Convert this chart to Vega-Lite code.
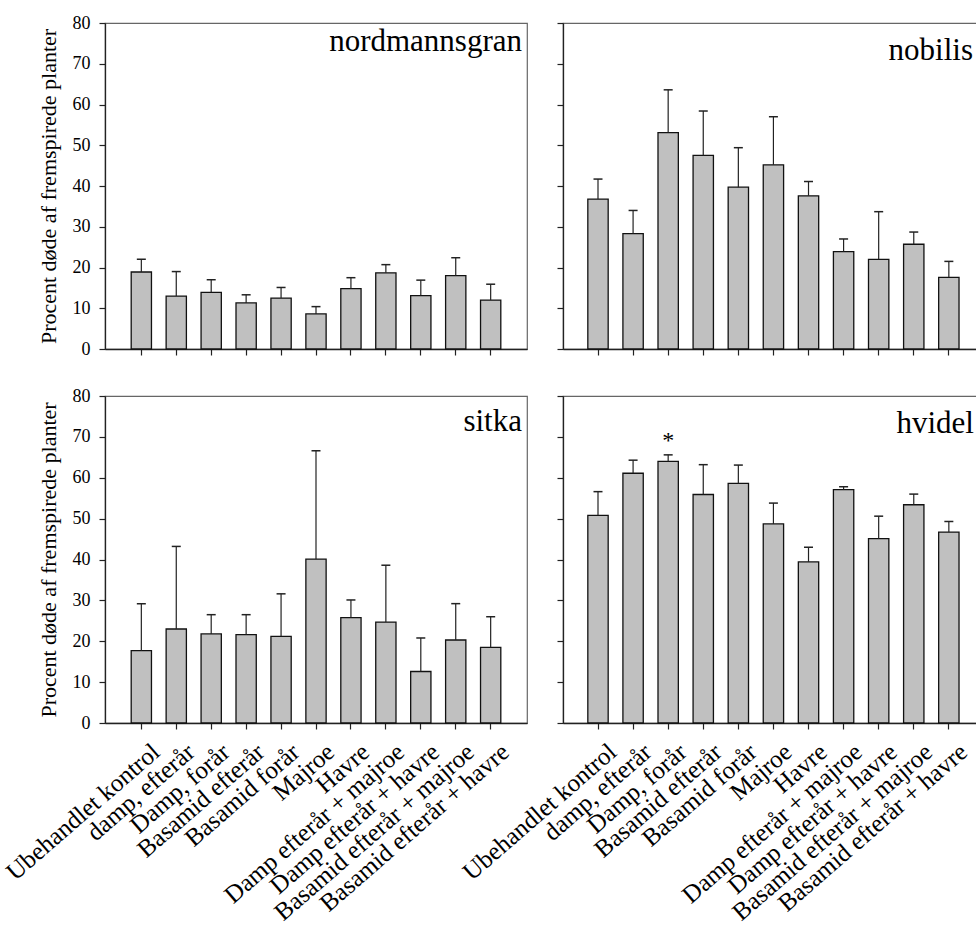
{
  "$schema": "https://vega.github.io/schema/vega-lite/v6.json",
  "padding": {"left": 0, "top": 13, "right": 0, "bottom": 0},
  "background": "white",
  "datasets": {
    "d": [
      {"art": "nordmannsgran", "beh": "Ubehandlet kontrol", "v": 18.9, "hi": 22.0},
      {"art": "nordmannsgran", "beh": "damp, efterår", "v": 13.0, "hi": 19.0},
      {"art": "nordmannsgran", "beh": "Damp, forår", "v": 13.9, "hi": 17.0},
      {"art": "nordmannsgran", "beh": "Basamid efterår", "v": 11.3, "hi": 13.3},
      {"art": "nordmannsgran", "beh": "Basamid forår", "v": 12.5, "hi": 15.1},
      {"art": "nordmannsgran", "beh": "Majroe", "v": 8.6, "hi": 10.4},
      {"art": "nordmannsgran", "beh": "Havre", "v": 14.8, "hi": 17.5},
      {"art": "nordmannsgran", "beh": "Damp efterår + majroe", "v": 18.7, "hi": 20.7},
      {"art": "nordmannsgran", "beh": "Damp efterår + havre", "v": 13.1, "hi": 16.9},
      {"art": "nordmannsgran", "beh": "Basamid efterår + majroe", "v": 18.0, "hi": 22.4},
      {"art": "nordmannsgran", "beh": "Basamid efterår + havre", "v": 12.0, "hi": 15.9},
      {"art": "nobilis", "beh": "Ubehandlet kontrol", "v": 36.8, "hi": 41.7},
      {"art": "nobilis", "beh": "damp, efterår", "v": 28.3, "hi": 34.0},
      {"art": "nobilis", "beh": "Damp, forår", "v": 53.1, "hi": 63.6},
      {"art": "nobilis", "beh": "Basamid efterår", "v": 47.5, "hi": 58.4},
      {"art": "nobilis", "beh": "Basamid forår", "v": 39.7, "hi": 49.4},
      {"art": "nobilis", "beh": "Majroe", "v": 45.2, "hi": 57.0},
      {"art": "nobilis", "beh": "Havre", "v": 37.6, "hi": 41.1},
      {"art": "nobilis", "beh": "Damp efterår + majroe", "v": 23.9, "hi": 27.0},
      {"art": "nobilis", "beh": "Damp efterår + havre", "v": 22.0, "hi": 33.7},
      {"art": "nobilis", "beh": "Basamid efterår + majroe", "v": 25.7, "hi": 28.7},
      {"art": "nobilis", "beh": "Basamid efterår + havre", "v": 17.6, "hi": 21.5},
      {"art": "sitka", "beh": "Ubehandlet kontrol", "v": 17.7, "hi": 29.2},
      {"art": "sitka", "beh": "damp, efterår", "v": 23.0, "hi": 43.2},
      {"art": "sitka", "beh": "Damp, forår", "v": 21.8, "hi": 26.5},
      {"art": "sitka", "beh": "Basamid efterår", "v": 21.6, "hi": 26.5},
      {"art": "sitka", "beh": "Basamid forår", "v": 21.2, "hi": 31.6},
      {"art": "sitka", "beh": "Majroe", "v": 40.1, "hi": 66.6},
      {"art": "sitka", "beh": "Havre", "v": 25.8, "hi": 30.1},
      {"art": "sitka", "beh": "Damp efterår + majroe", "v": 24.7, "hi": 38.6},
      {"art": "sitka", "beh": "Damp efterår + havre", "v": 12.6, "hi": 20.8},
      {"art": "sitka", "beh": "Basamid efterår + majroe", "v": 20.3, "hi": 29.2},
      {"art": "sitka", "beh": "Basamid efterår + havre", "v": 18.5, "hi": 26.0},
      {"art": "hvidel", "beh": "Ubehandlet kontrol", "v": 50.8, "hi": 56.6},
      {"art": "hvidel", "beh": "damp, efterår", "v": 61.1, "hi": 64.3},
      {"art": "hvidel", "beh": "Damp, forår", "v": 64.0, "hi": 65.6, "sig": "*"},
      {"art": "hvidel", "beh": "Basamid efterår", "v": 55.9, "hi": 63.2},
      {"art": "hvidel", "beh": "Basamid forår", "v": 58.6, "hi": 63.1},
      {"art": "hvidel", "beh": "Majroe", "v": 48.7, "hi": 53.8},
      {"art": "hvidel", "beh": "Havre", "v": 39.4, "hi": 43.0},
      {"art": "hvidel", "beh": "Damp efterår + majroe", "v": 57.1, "hi": 57.8},
      {"art": "hvidel", "beh": "Damp efterår + havre", "v": 45.1, "hi": 50.6},
      {"art": "hvidel", "beh": "Basamid efterår + majroe", "v": 53.4, "hi": 56.0},
      {"art": "hvidel", "beh": "Basamid efterår + havre", "v": 46.7, "hi": 49.3}
    ]
  },
  "columns": 2,
  "align": "each",
  "bounds": "flush",
  "spacing": {"row": 47, "column": 36},
  "concat": [
    {
      "width": 422, "height": 326,
      "title": {"text": "nordmannsgran", "offset": -44, "dx": -5},
      "data": {"name": "d"},
      "transform": [{"filter": "datum.art == 'nordmannsgran'"}],
      "encoding": {
        "x": {"field": "beh", "type": "nominal", "sort": null,
              "scale": {"paddingInner": 0.42, "paddingOuter": 0.75},
              "axis": {"labels": false, "title": null}}
      },
      "layer": [
        {"mark": {"type": "bar", "fill": "#c0c0c0", "stroke": "#111", "strokeWidth": 1.3},
         "encoding": {"y": {"field": "v", "type": "quantitative", "scale": {"domain": [0, 80]},
                            "title": "Procent døde af fremspirede planter"}}},
        {"mark": {"type": "rule", "color": "#222", "strokeWidth": 1.2},
         "encoding": {"y": {"field": "v", "type": "quantitative", "title": "Procent døde af fremspirede planter"}, "y2": {"field": "hi"}}},
        {"mark": {"type": "tick", "color": "#222", "size": 9, "thickness": 1.5, "opacity": 1, "orient": "horizontal"},
         "encoding": {"y": {"field": "hi", "type": "quantitative", "title": "Procent døde af fremspirede planter"}}}
      ]
    },
    {
      "width": 414, "height": 326,
      "title": {"text": "nobilis", "offset": -45, "dx": -4},
      "data": {"name": "d"},
      "transform": [{"filter": "datum.art == 'nobilis'"}],
      "encoding": {
        "x": {"field": "beh", "type": "nominal", "sort": null,
              "scale": {"paddingInner": 0.42, "paddingOuter": 0.61, "align": 0.58},
              "axis": {"labels": false, "title": null}}
      },
      "layer": [
        {"mark": {"type": "bar", "fill": "#c0c0c0", "stroke": "#111", "strokeWidth": 1.3},
         "encoding": {"y": {"field": "v", "type": "quantitative", "scale": {"domain": [0, 80]},
                            "title": null, "axis": {"labels": false}}}},
        {"mark": {"type": "rule", "color": "#222", "strokeWidth": 1.2},
         "encoding": {"y": {"field": "v", "type": "quantitative", "title": null, "axis": {"labels": false}}, "y2": {"field": "hi"}}},
        {"mark": {"type": "tick", "color": "#222", "size": 9, "thickness": 1.5, "opacity": 1, "orient": "horizontal"},
         "encoding": {"y": {"field": "hi", "type": "quantitative", "title": null, "axis": {"labels": false}}}}
      ]
    },
    {
      "width": 422, "height": 327,
      "title": {"text": "sitka", "offset": -51, "dx": -5},
      "data": {"name": "d"},
      "transform": [{"filter": "datum.art == 'sitka'"}],
      "encoding": {
        "x": {"field": "beh", "type": "nominal", "sort": null,
              "scale": {"paddingInner": 0.42, "paddingOuter": 0.75},
              "axis": {"title": null}}
      },
      "layer": [
        {"mark": {"type": "bar", "fill": "#c0c0c0", "stroke": "#111", "strokeWidth": 1.3},
         "encoding": {"y": {"field": "v", "type": "quantitative", "scale": {"domain": [0, 80]},
                            "title": "Procent døde af fremspirede planter"}}},
        {"mark": {"type": "rule", "color": "#222", "strokeWidth": 1.2},
         "encoding": {"y": {"field": "v", "type": "quantitative", "title": "Procent døde af fremspirede planter"}, "y2": {"field": "hi"}}},
        {"mark": {"type": "tick", "color": "#222", "size": 9, "thickness": 1.5, "opacity": 1, "orient": "horizontal"},
         "encoding": {"y": {"field": "hi", "type": "quantitative", "title": "Procent døde af fremspirede planter"}}}
      ]
    },
    {
      "width": 414, "height": 327,
      "title": {"text": "hvidel", "offset": -45, "dx": -3},
      "data": {"name": "d"},
      "transform": [{"filter": "datum.art == 'hvidel'"}],
      "encoding": {
        "x": {"field": "beh", "type": "nominal", "sort": null,
              "scale": {"paddingInner": 0.42, "paddingOuter": 0.61, "align": 0.58},
              "axis": {"title": null}}
      },
      "layer": [
        {"mark": {"type": "bar", "fill": "#c0c0c0", "stroke": "#111", "strokeWidth": 1.3},
         "encoding": {"y": {"field": "v", "type": "quantitative", "scale": {"domain": [0, 80]},
                            "title": null, "axis": {"labels": false}}}},
        {"mark": {"type": "rule", "color": "#222", "strokeWidth": 1.2},
         "encoding": {"y": {"field": "v", "type": "quantitative", "title": null, "axis": {"labels": false}}, "y2": {"field": "hi"}}},
        {"mark": {"type": "tick", "color": "#222", "size": 9, "thickness": 1.5, "opacity": 1, "orient": "horizontal"},
         "encoding": {"y": {"field": "hi", "type": "quantitative", "title": null, "axis": {"labels": false}}}},
        {"transform": [{"filter": "datum.sig"}],
         "mark": {"type": "text", "font": "Liberation Serif", "fontSize": 24, "baseline": "alphabetic", "dy": -7, "color": "#000"},
         "encoding": {"y": {"field": "hi", "type": "quantitative", "title": null, "axis": {"labels": false}}, "text": {"field": "sig"}}}
      ]
    }
  ],
  "config": {
    "font": "Liberation Serif",
    "view": {"stroke": "#666", "strokeWidth": 1.2},
    "title": {"anchor": "end", "frame": "group", "orient": "top", "font": "Liberation Serif", "fontSize": 31, "fontWeight": "normal", "color": "#000", "baseline": "alphabetic"},
    "axis": {"domainColor": "#222", "domainWidth": 1.3, "tickColor": "#222", "tickWidth": 1.2, "tickSize": 6, "grid": false,
             "labelFont": "Liberation Serif", "labelColor": "#000", "labelFontSize": 18,
             "titleFont": "Liberation Serif", "titleFontWeight": "normal", "titleColor": "#000", "titleFontSize": 22},
    "axisY": {"values": [0, 10, 20, 30, 40, 50, 60, 70, 80], "labelPadding": 9, "titlePadding": 12},
    "axisX": {"labelAngle": -41, "labelFontSize": 25, "labelPadding": 25, "labelOffset": 20, "labelAlign": "right", "labelBaseline": "alphabetic", "labelLimit": 400}
  }
}
